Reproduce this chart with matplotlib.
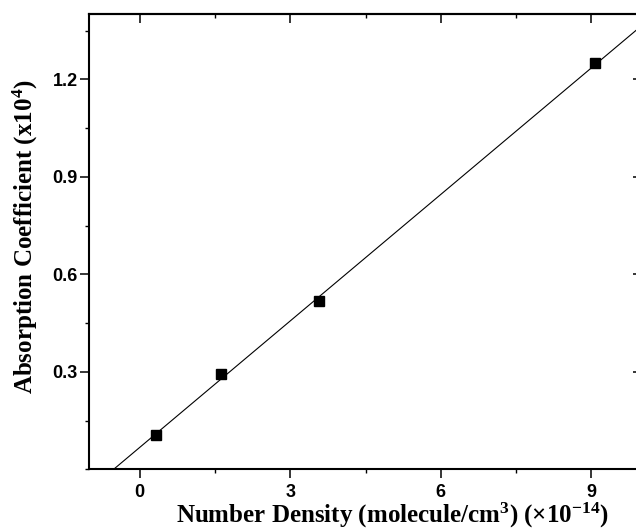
import numpy as np
import matplotlib
matplotlib.use("Agg")
import matplotlib.pyplot as plt
from matplotlib.ticker import MultipleLocator
from matplotlib import font_manager

# Data
density = [0.33, 1.62, 3.58, 9.08]          # x 10^14 molecule/cm^3
absorption = [0.107, 0.292, 0.517, 1.249]   # x 10^4
xticks = [0, 3, 6, 9]
yticks = [0.3, 0.6, 0.9, 1.2]

names = {f.name for f in font_manager.fontManager.ttflist}
tickfont = 'Liberation Sans Narrow' if 'Liberation Sans Narrow' in names else 'Liberation Sans'

plt.rcParams['mathtext.fontset'] = 'custom'
plt.rcParams['mathtext.rm'] = 'Liberation Serif:bold'
plt.rcParams['mathtext.it'] = 'Liberation Serif:bold'
plt.rcParams['mathtext.bf'] = 'Liberation Serif:bold'
plt.rcParams['mathtext.default'] = 'rm'

fig = plt.figure(figsize=(6.36, 5.29), dpi=100)
ax = fig.add_axes([0.1407, 0.1129, 0.8682, 0.8601])

coef = np.polyfit(density, absorption, 1)
xl = np.array([-1.0, 10.0])
ax.plot(xl, np.polyval(coef, xl), color='black', lw=0.8)
ax.plot(density, absorption, 's', color='black', ms=6.5)

ax.set_xlim(-1, 10)
ax.set_ylim(0, 1.4)
ax.set_xticks(xticks)
ax.set_yticks(yticks)
ax.set_xticklabels([str(t) for t in xticks])
ax.set_yticklabels([f"{t:.1f}" for t in yticks])
ax.xaxis.set_minor_locator(MultipleLocator(1.5))
ax.yaxis.set_minor_locator(MultipleLocator(0.15))

for s in ax.spines.values():
    s.set_linewidth(1.5)

ax.tick_params(which='major', direction='out', length=6.5, width=1.1, labelsize=13)
ax.tick_params(which='minor', direction='out', length=3, width=1.0)
ax.tick_params(axis='y', pad=2)
ax.tick_params(axis='x', pad=4)
for lab in ax.get_xticklabels() + ax.get_yticklabels():
    lab.set_fontfamily(tickfont)
    lab.set_fontweight('bold')

# mirrored ticks on top and right pointing inward
sx = ax.secondary_xaxis('top')
sx.set_xticks(xticks)
sx.xaxis.set_minor_locator(MultipleLocator(1.5))
sx.tick_params(which='major', direction='in', length=6.5, width=1.1, labeltop=False)
sx.tick_params(which='minor', direction='in', length=3, width=1.0)
sx.spines['top'].set_linewidth(1.5)
sy = ax.secondary_yaxis('right')
sy.set_yticks(yticks)
sy.yaxis.set_minor_locator(MultipleLocator(0.15))
sy.tick_params(which='major', direction='in', length=6.5, width=1.1, labelright=False)
sy.tick_params(which='minor', direction='in', length=3, width=1.0)
sy.spines['right'].set_linewidth(1.5)

ax.set_xlabel('Number Density (molecule/cm$^{3}$) (×10$^{-14}$)',
              fontfamily='Liberation Serif', fontweight='bold', fontsize=18)
ax.set_ylabel('Absorption Coefficient (x10$^{4}$)',
              fontfamily='Liberation Serif', fontweight='bold', fontsize=18)
ax.xaxis.set_label_coords((392 - 89.5) / 552.2, -(501 - 469.3) / 455.0)
ax.yaxis.set_label_coords((40 - 89.5) / 552.2, (469.3 - 236.5) / 455.0)

fig.savefig('out.png', dpi=100)
